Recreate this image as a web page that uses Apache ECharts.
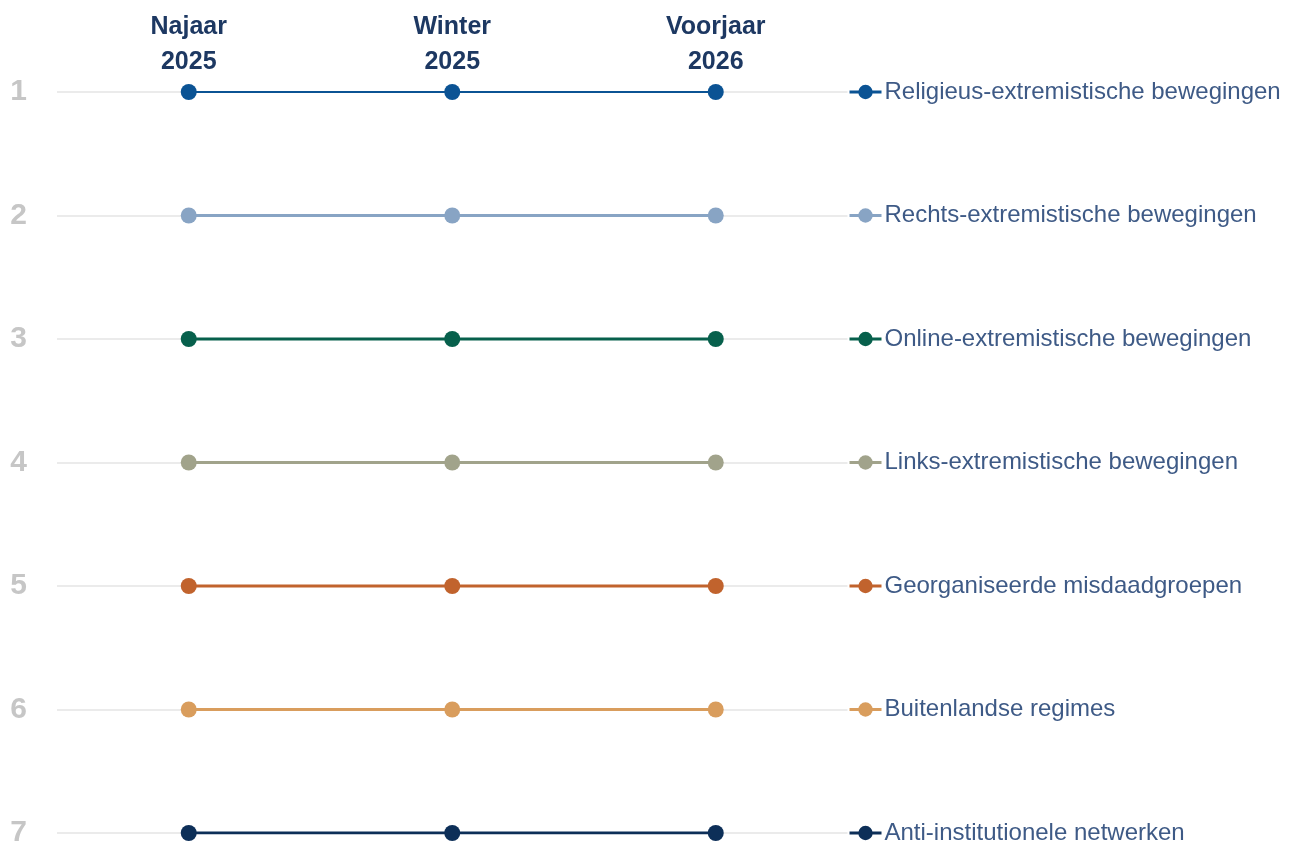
<!DOCTYPE html>
<html><head><meta charset="utf-8">
<script src="https://cdn.jsdelivr.net/npm/echarts@6/dist/echarts.min.js"></script>
<style>html,body{margin:0;padding:0;background:#fff}#c{width:1296px;height:843px}</style>
</head><body><div id="c"></div>
<script>
const periods = ['Najaar\n2025', 'Winter\n2025', 'Voorjaar\n2026'];
const rankTicks = [1, 2, 3, 4, 5, 6, 7];
const seriesNames = [
  'Religieus-extremistische bewegingen',
  'Rechts-extremistische bewegingen',
  'Online-extremistische bewegingen',
  'Links-extremistische bewegingen',
  'Georganiseerde misdaadgroepen',
  'Buitenlandse regimes',
  'Anti-institutionele netwerken'
];
const rankReligieus = [1, 1, 1];
const rankRechts = [2, 2, 2];
const rankOnline = [3, 3, 3];
const rankLinks = [4, 4, 4];
const rankMisdaad = [5, 5, 5];
const rankRegimes = [6, 6, 6];
const rankAnti = [7, 7, 7];
const seriesData = [rankReligieus, rankRechts, rankOnline, rankLinks, rankMisdaad, rankRegimes, rankAnti];
const colors = ['#0b5394', '#88a4c4', '#07604c', '#a1a38b', '#c1632d', '#d99d5d', '#0d2f58'];

const chart = echarts.init(document.getElementById('c'));
const FONT = 'Liberation Sans, Arial, sans-serif';
chart.setOption({
  animation: false,
  grid: { left: 57, width: 790.5, top: 92, height: 741, containLabel: false, outerBoundsMode: 'none' },
  xAxis: {
    type: 'category',
    data: periods,
    position: 'top',
    boundaryGap: true,
    axisLine: { show: false },
    axisTick: { show: false },
    axisLabel: {
      margin: 12,
      fontFamily: FONT,
      fontWeight: 'bold',
      fontSize: 25,
      lineHeight: 35,
      color: '#1d3862'
    },
    splitLine: { show: false }
  },
  yAxis: {
    type: 'value',
    min: 1, max: 7, interval: 1,
    inverse: true,
    axisLine: { show: false },
    axisTick: { show: false },
    axisLabel: {
      margin: 30,
      fontFamily: FONT,
      fontWeight: 'bold',
      fontSize: 30,
      color: '#c6c6c6',
      formatter: v => rankTicks.includes(v) ? String(v) : ''
    },
    splitLine: { show: true, lineStyle: { color: '#e4e4e4', width: 1.5 } }
  },
  series: seriesNames.map((name, i) => ({
    name,
    type: 'line',
    data: seriesData[i],
    symbol: 'circle',
    symbolSize: 16,
    color: colors[i],
    lineStyle: { width: i === 0 ? 2 : 3, color: colors[i] },
    itemStyle: { color: colors[i] }
  }))
});

// one legend entry per row, placed on that row's rank via the y axis scale
const legends = seriesNames.map((name, i) => {
  const y = chart.convertToPixel({ yAxisIndex: 0 }, seriesData[i][2]);
  return {
    orient: 'vertical',
    left: 848,
    top: y - 14,
    padding: 0,
    itemWidth: 32,
    itemHeight: 18,
    data: [name],
    lineStyle: { width: 3 },
    textStyle: {
      fontFamily: FONT,
      fontSize: 24,
      lineHeight: 28,
      color: '#3e5a86',
      padding: [0, 0, 0, -2]
    }
  };
});
chart.setOption({ legend: legends });
</script></body></html>
